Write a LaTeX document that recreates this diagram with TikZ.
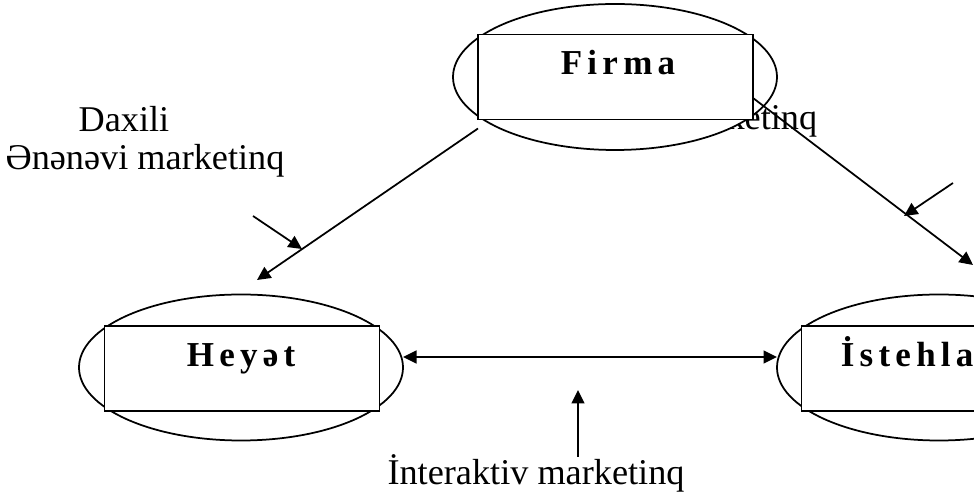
\documentclass[tikz,border=0pt]{standalone}
\usepackage{fontspec}
\setmainfont{Liberation Serif}
\usetikzlibrary{arrows.meta,shapes.geometric}

\newcommand{\spread}[1]{{\spaceskip=0.15em\relax #1}}

\begin{document}
\begin{tikzpicture}[x=0.4pt, y=-0.4pt, line width=0.7pt,
	>={Triangle[length=5.4pt,width=5.2pt]}]

	\tikzstyle{oval}=[ellipse,draw,fill=white,inner sep=0pt,outer sep=0pt,minimum width=129.6pt,minimum height=58.4pt]
	\tikzstyle{box}=[rectangle,draw,fill=white,inner sep=0pt,outer sep=0pt,minimum width=110pt,minimum height=34pt]
	\tikzstyle{party}=[font=\fontsize{14}{16}\selectfont\bfseries,inner sep=0pt,anchor=base west]
	\tikzstyle{note}=[font=\fontsize{14.5}{17}\selectfont,inner sep=0pt,anchor=base]

	\useasboundingbox (0,0) rectangle (974,498);
	\clip (0,0) rectangle (974,498);

	% label on the right, mostly covered by the Firma oval
	\node[note,anchor=base east] (xarici) at (818,130) {Xarici marketinq};

	\node[oval] (firmaOval) at (615,77) {};
	\node[box] (firmaBox) at (615.5,77) {};
	\node[party] (firma) at (560,75) {\spread{F i r m a}};

	\node[oval] (heyetOval) at (241,367.5) {};
	\node[box] (heyetBox) at (242,368.5) {};
	\node[party] (heyet) at (186,367) {\spread{H e y ə t}};

	\node[oval] (istehlakOval) at (939,367.5) {};
	\node[box] (istehlakBox) at (939,368.5) {};
	\node[party] (istehlak) at (840,367) {\spread{İ s t e h l a k}};

	\node[note] (daxili) at (124,132) {Daxili};
	\node[note] (enenevi) at (145,170) {Ənənəvi marketinq};
	\node[note] (interaktiv) at (536,485) {İnteraktiv marketinq};

	\coordinate (heyetTip) at (257,280);
	\coordinate (istehlakTip) at (973,265);
	\coordinate (daxiliTail) at (253,216);
	\coordinate (daxiliTip) at (302,249);
	\coordinate (xariciTail) at (953,183);
	\coordinate (xariciTip) at (904,216);
	\coordinate (intTail) at (578,457);
	\coordinate (intTip) at (578,390);

	% From Firma
	\path ([yshift=-3.6pt]firmaBox.south west) edge [->] (heyetTip);
	\path ([yshift=-8.4pt]firmaBox.east) edge [->] (istehlakTip);

	% Heyet and Istehlak
	\path ([yshift=4.2pt]heyetOval.east) edge [<->] ([yshift=4.2pt]istehlakOval.west);

	% pointers
	\path (daxiliTail) edge [->] (daxiliTip);
	\path (xariciTail) edge [->] (xariciTip);
	\path (intTail) edge [->] (intTip);

\end{tikzpicture}
\end{document}
